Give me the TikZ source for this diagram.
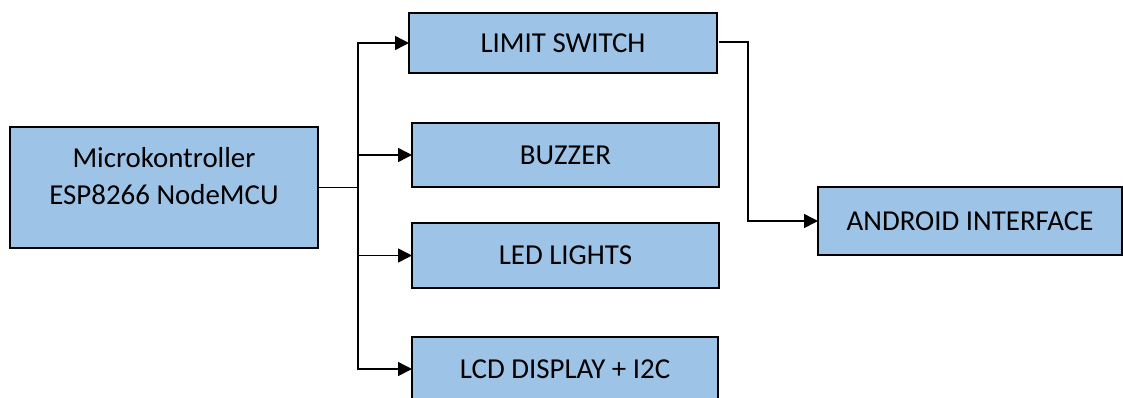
\documentclass[tikz,border=0pt]{standalone}
\usepackage{fontspec}
\setmainfont{Carlito}
\usetikzlibrary{arrows.meta}
\definecolor{boxblue}{HTML}{9DC3E6}
\begin{document}
\begin{tikzpicture}[x=1bp,y=-1bp,
  blk/.style={draw=black, line width=1.5bp, fill=boxblue, rectangle, inner sep=0pt, outer sep=0pt,
    font=\fontsize{29}{38}\selectfont},
  txt/.style={inner sep=0pt, align=center, font=\fontsize{29}{38}\selectfont},
  conn/.style={draw=black, line width=1.5bp},
  arr/.style={conn, -{Triangle[length=14bp,width=14bp]}}]
\useasboundingbox (0,0) rectangle (1123,397);
\node[blk, minimum width=308bp, minimum height=121bp] (micro) at (164,187.5) {};
\node[txt] (microtxt) at (164,176) {Microkontroller\\ESP8266 NodeMCU};
\node[blk, minimum width=308bp, minimum height=60bp] (limit) at (563,43) {LIMIT SWITCH};
\node[blk, minimum width=307bp, minimum height=64bp] (buzzer) at (565.5,155) {BUZZER};
\node[blk, minimum width=307bp, minimum height=65bp] (led) at (565.5,255.5) {LED LIGHTS};
\node[blk, minimum width=306bp, minimum height=64bp] (lcd) at (565,369) {LCD DISPLAY + I2C};
\node[blk, minimum width=304bp, minimum height=68bp] (android) at (970,221) {ANDROID INTERFACE};
\coordinate (j) at (358,187.5);
\coordinate (k) at (748,42);
\draw[conn] (micro.east) -- (j);
\draw[arr] (j) |- (limit.west);
\draw[arr] (j) |- (buzzer.west);
\draw[arr] (j) |- (led.west);
\draw[arr] (j) |- (lcd.west);
\draw[arr] ([xshift=2bp]limit.east |- k) -- (k) |- (android.west);
\end{tikzpicture}
\end{document}
